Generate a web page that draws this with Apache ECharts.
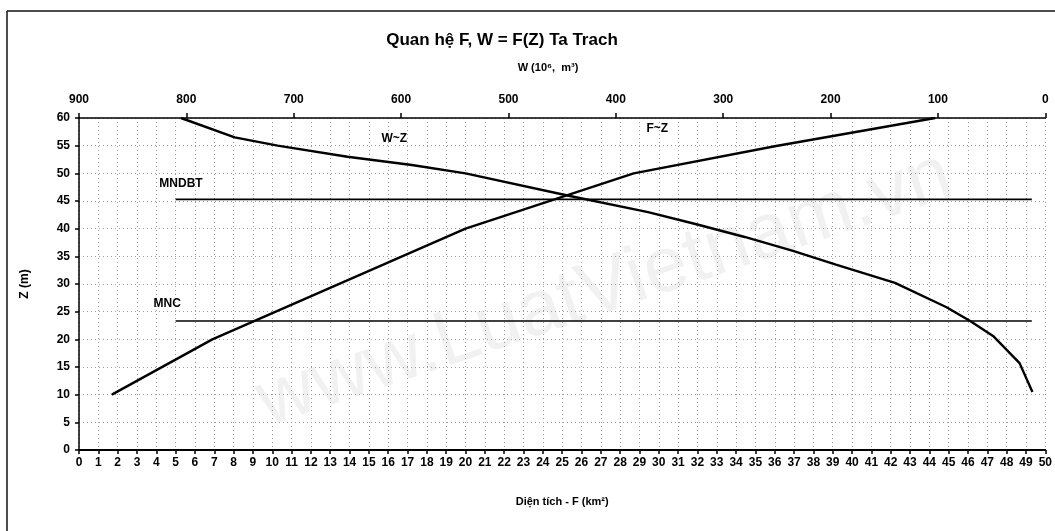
<!DOCTYPE html>
<html>
<head>
<meta charset="utf-8">
<script src="https://cdn.jsdelivr.net/npm/echarts@6/dist/echarts.min.js"></script>
<style>
html, body { margin: 0; padding: 0; background: #fff; }
#chart { width: 1055px; height: 531px; }
</style>
</head>
<body>
<div id="chart"></div>
<script>
// Quan he F~Z (dien tich, km2) : [F, Z]
var fzData = [[1.7, 10], [6.9, 20], [20, 40], [28.7, 50], [36, 54.9], [44.3, 60]];
// Quan he W~Z (dung tich, 10^6 m3) : [W, Z]
var wzData = [[805, 60], [755, 56.5], [715, 55], [650, 53], [590, 51.5], [540, 50], [445, 46],
    [370, 43], [325, 40.8], [280, 38.5], [235, 36], [195, 33.5], [140, 30.2], [92, 25.8],
    [70, 23.3], [48, 20.5], [24, 15.7], [12, 10.5]];
// muc nuoc dac trung
var mndbt = 45.3;
var mnc = 23.3;
var levelRange = [5, 49.3];

var chart = echarts.init(document.getElementById('chart'));
var black = '#000';
var font = 'Arial, "Liberation Sans", sans-serif';
var gridLine = { type: [1, 3], color: '#9c9c9c', width: 1 };

option = {
    backgroundColor: '#fff',
    animation: false,
    title: [{
        text: 'Quan hệ F, W = F(Z) Ta Trach',
        left: 497,
        top: 27,
        textAlign: 'center',
        textStyle: { fontSize: 17, fontWeight: 'bold', color: black, fontFamily: font }
    }, {
        text: 'W (10⁶,  m³)',
        left: 543,
        top: 57,
        textAlign: 'center',
        textStyle: { fontSize: 11, fontWeight: 'bold', color: black, fontFamily: font }
    }],
    graphic: [
        { type: 'line', shape: { x1: 7, y1: 11, x2: 1055, y2: 11 }, style: { stroke: '#111', lineWidth: 1.5 } },
        { type: 'line', shape: { x1: 7, y1: 11, x2: 7, y2: 531 }, style: { stroke: '#111', lineWidth: 1.5 } },
        {
            type: 'text', x: 605, y: 290, rotation: 18.6 * Math.PI / 180, z: -1,
            style: {
                text: 'www.LuatVietnam.vn', fill: '#f1f1f1', font: '78px ' + font,
                textAlign: 'center', textVerticalAlign: 'middle'
            }
        }
    ],
    grid: { left: 79, right: 2, top: 118, bottom: 81 },
    xAxis: [{
        type: 'value',
        position: 'bottom',
        min: 0,
        max: 50,
        interval: 1,
        name: 'Diện tích - F (km²)',
        nameLocation: 'middle',
        nameGap: 46,
        nameTextStyle: { fontSize: 11, fontWeight: 'bold', color: black, fontFamily: font },
        axisLine: { onZero: false, lineStyle: { color: black, width: 2 } },
        axisTick: { show: true, length: 4, lineStyle: { color: black, width: 1.5 } },
        axisLabel: { fontSize: 12, fontWeight: 'bold', color: black, fontFamily: font, margin: 7 },
        splitLine: { show: true, lineStyle: gridLine }
    }, {
        type: 'value',
        position: 'top',
        min: 0,
        max: 900,
        interval: 100,
        inverse: true,
        axisLine: { onZero: false, lineStyle: { color: black, width: 1.5 } },
        axisTick: { show: true, inside: false, length: 5, lineStyle: { color: black, width: 1.5 } },
        axisLabel: { fontSize: 12, fontWeight: 'bold', color: black, fontFamily: font, margin: 12 },
        splitLine: { show: false }
    }],
    yAxis: {
        type: 'value',
        min: 0,
        max: 60,
        interval: 5,
        name: 'Z (m)',
        nameLocation: 'middle',
        nameGap: 48,
        nameTextStyle: { fontSize: 12, fontWeight: 'bold', color: black, fontFamily: font },
        axisLine: { show: true, lineStyle: { color: black, width: 1.5 } },
        axisTick: { show: true, length: 4, lineStyle: { color: black, width: 1.5 } },
        axisLabel: { fontSize: 12, fontWeight: 'bold', color: black, fontFamily: font, margin: 9 },
        splitLine: { show: true, lineStyle: gridLine }
    },
    series: [{
        name: 'F~Z',
        type: 'line',
        xAxisIndex: 0,
        data: fzData,
        symbol: 'none',
        lineStyle: { color: black, width: 2.4 },
        markPoint: {
            symbolSize: 0,
            label: { show: true, formatter: 'F~Z', position: 'right', fontSize: 12, fontWeight: 'bold', color: black, fontFamily: font },
            data: [{ coord: [29.1, 58] }]
        }
    }, {
        name: 'W~Z',
        type: 'line',
        xAxisIndex: 1,
        data: wzData,
        symbol: 'none',
        lineStyle: { color: black, width: 2.4 },
        markPoint: {
            symbolSize: 0,
            label: { show: true, formatter: 'W~Z', position: 'right', fontSize: 12, fontWeight: 'bold', color: black, fontFamily: font },
            data: [{ coord: [623, 56.2] }]
        }
    }, {
        name: 'MNDBT',
        type: 'line',
        xAxisIndex: 0,
        data: [[levelRange[0], mndbt], [levelRange[1], mndbt]],
        symbol: 'none',
        lineStyle: { color: black, width: 1.6 },
        markPoint: {
            symbolSize: 0,
            label: { show: true, formatter: 'MNDBT', position: 'right', fontSize: 12, fontWeight: 'bold', color: black, fontFamily: font },
            data: [{ coord: [3.9, 48.2] }]
        }
    }, {
        name: 'MNC',
        type: 'line',
        xAxisIndex: 0,
        data: [[levelRange[0], mnc], [levelRange[1], mnc]],
        symbol: 'none',
        lineStyle: { color: black, width: 1.6 },
        markPoint: {
            symbolSize: 0,
            label: { show: true, formatter: 'MNC', position: 'right', fontSize: 12, fontWeight: 'bold', color: black, fontFamily: font },
            data: [{ coord: [3.6, 26.5] }]
        }
    }]
};

chart.setOption(option);
</script>
</body>
</html>
